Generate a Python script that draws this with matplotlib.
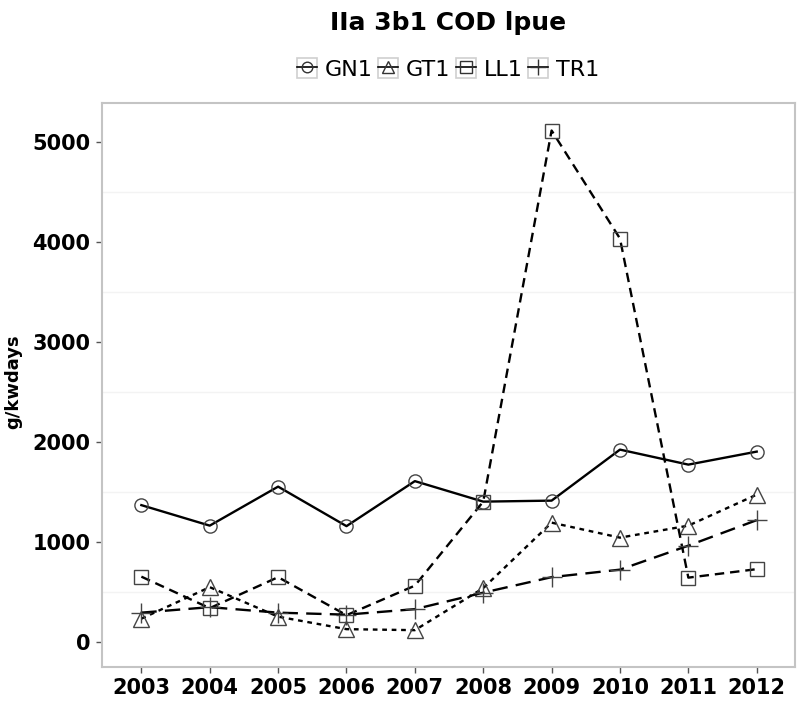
import matplotlib.pyplot as plt
from matplotlib.lines import Line2D
from matplotlib.patches import Rectangle
from matplotlib.legend_handler import HandlerTuple

plt.rcParams['font.family'] = ['DejaVu Sans']

# lpue per gear, g/kwdays
years = [2003, 2004, 2005, 2006, 2007, 2008, 2009, 2010, 2011, 2012]
gn1 = [1365, 1160, 1550, 1155, 1605, 1400, 1410, 1920, 1770, 1900]
gt1 = [230, 545, 250, 125, 115, 535, 1190, 1040, 1160, 1470]
ll1 = [650, 335, 645, 265, 560, 1400, 5110, 4030, 640, 725]
tr1 = [290, 345, 290, 270, 325, 490, 645, 720, 960, 1215]

series = {'GN1': gn1, 'GT1': gt1, 'LL1': ll1, 'TR1': tr1}
markers = {'GN1': 'o', 'GT1': '^', 'LL1': 's', 'TR1': '+'}
msizes = {'GN1': 9.5, 'GT1': 11, 'LL1': 10, 'TR1': 14}
dashes = {'GN1': None, 'GT1': (2, 2), 'LL1': (4, 2.5), 'TR1': (6.5, 3.5)}

fig = plt.figure(figsize=(7.99, 7.09), dpi=100)
ax = fig.add_axes([0.1273, 0.0597, 0.995 - 0.1273, 0.8547 - 0.0597])

handles = []
for name, vals in series.items():
    m = markers[name]
    line, = ax.plot(years, vals, color='black', lw=1.7,
                    marker=m, markersize=msizes[name],
                    markerfacecolor='none', markeredgecolor='#444444',
                    markeredgewidth=1.0, zorder=3)
    if dashes[name] is not None:
        line.set_dashes(dashes[name])
    box = Rectangle((0, 0), 1, 1, facecolor='white', edgecolor='#cfcfcf', lw=1.2)
    key = Line2D([], [], color='black', lw=1.2, marker=m,
                 markersize=msizes[name] * 0.8,
                 markerfacecolor='none', markeredgecolor='#333333',
                 markeredgewidth=1.0)
    handles.append((box, key))

ax.set_xlim(2002.42, 2012.56)
ax.set_ylim(-250, 5385)
ax.set_xticks(years)
ax.set_yticks([0, 1000, 2000, 3000, 4000, 5000])
for y in [500, 1500, 2500, 3500, 4500]:
    ax.axhline(y, color='#f3f3f3', lw=1.0, zorder=0)

for s in ax.spines.values():
    s.set_color('#c4c4c4')
    s.set_linewidth(1.5)

ax.tick_params(length=4, width=1, color='#555555', pad=4)
for lab in ax.get_xticklabels() + ax.get_yticklabels():
    lab.set_fontweight('bold')
    lab.set_fontsize(15)

fig.text(13 / 799, 1 - 382 / 709, 'g/kwdays', rotation=90, ha='center',
         va='center', fontsize=13, fontweight='bold')
fig.text(0.561, 1 - 23 / 709, 'IIa 3b1 COD lpue', ha='center', va='center',
         fontsize=18, fontweight='bold')

fig.legend(handles, list(series.keys()), loc='center', ncol=4,
           bbox_to_anchor=(0.561, 1 - 69 / 709), frameon=False, fontsize=16,
           handler_map={tuple: HandlerTuple(ndivide=1)},
           handlelength=0.9, handleheight=0.95, handletextpad=0.35,
           columnspacing=0.25, borderpad=0)

fig.savefig('out.png', dpi=100, facecolor='white')
